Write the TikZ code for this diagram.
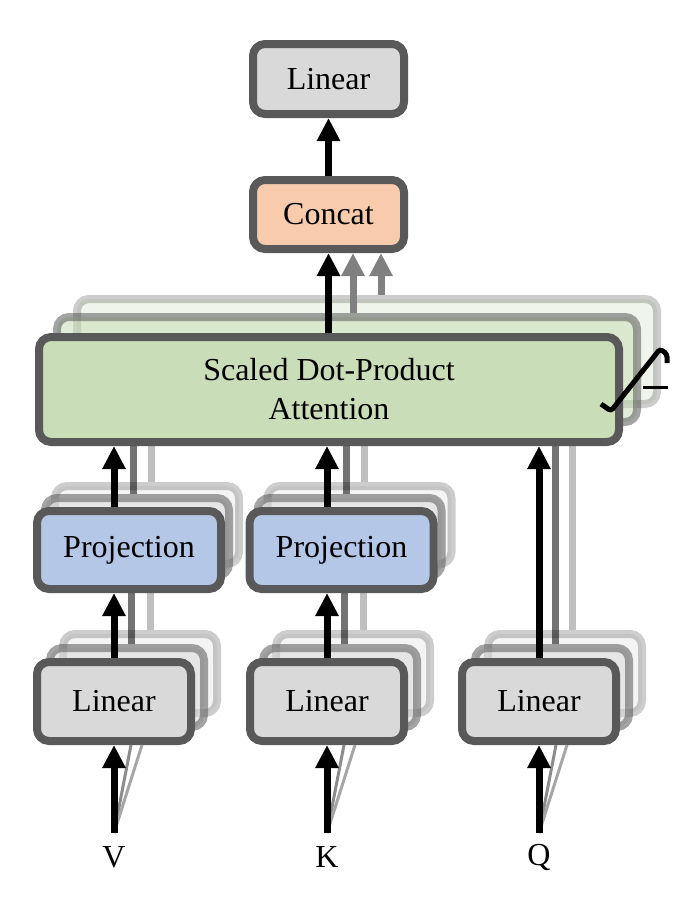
\documentclass[tikz,border=0pt]{standalone}
\usepackage{fontspec}
\setmainfont{Liberation Serif}
\usetikzlibrary{positioning, arrows.meta, calc}
\definecolor{edgegray}{HTML}{595959}
\definecolor{lingray}{HTML}{D9D9D9}
\definecolor{catpeach}{HTML}{F8CBAD}
\definecolor{projblue}{HTML}{B4C7E7}
\definecolor{attgreen}{HTML}{C9DDB8}

\begin{document}
\begin{tikzpicture}[
    x=0.5pt, y=-0.5pt,
    every node/.style={font=\fontsize{16}{19.5}\selectfont},
    blk/.style={draw=edgegray, line width=4pt, rounded corners=6pt, inner sep=0pt, align=center},
    ghostA/.style={draw opacity=.55, fill opacity=.55},
    ghostB/.style={draw opacity=.3, fill opacity=.3},
    linbox/.style={blk, fill=lingray, minimum width=77pt, minimum height=39.5pt},
    projbox/.style={blk, fill=projblue, minimum width=92pt, minimum height=39pt},
    attbox/.style={blk, fill=attgreen, minimum width=290pt, minimum height=52.5pt},
    arr/.style={line width=3.5pt, -{Triangle[width=11pt,length=11.5pt]}},
    fadedarr/.style={arr, black!50},
    dimline/.style={line width=3.5pt, black, opacity=.55},
    faintline/.style={line width=3.5pt, black, opacity=.25},
    fan/.style={line width=1.5pt, black!45},
  ]
  \useasboundingbox (0,0) rectangle (680,910);

  % stacked copies of the heads
  \foreach \n/\x in {V/114, K/327, Q/539} {
    \node[linbox, ghostB] (lin\n B) at (\x+26, 673.5) {};
    \node[linbox, ghostA] (lin\n A) at (\x+13, 687.5) {};
  }
  \foreach \n/\x in {V/129, K/341.5} {
    \node[projbox, fill=lingray, ghostB] (proj\n B) at (\x+18, 525) {};
    \node[projbox, fill=lingray, ghostA] (proj\n A) at (\x+8, 537) {};
  }
  \node[attbox, ghostB] (attB) at (367, 351.5) {};
  \node[attbox, ghostA] (attA) at (347, 369.5) {};

  % front boxes
  \node[blk, fill=lingray, minimum width=75.5pt, minimum height=35pt] (top) at (328.5, 79) {Linear};
  \node[blk, fill=catpeach, minimum width=75.5pt, minimum height=34.5pt] (cat) at (328.5, 214.5) {Concat};
  \node[attbox] (att) at (329, 389.5) {Scaled Dot-Product\\Attention};
  \node[projbox] (projV) at (129, 550) {Projection};
  \node[projbox] (projK) at (341.5, 550) {Projection};
  \foreach \n/\x in {V/114, K/327, Q/539} {
    \node[linbox] (lin\n) at (\x, 701.5) {Linear};
    \coordinate (in\n) at (\x, 833);
    \node (lab\n) at (\x, 857) {\n};
  }

  % inputs
  \foreach \n in {V, K, Q} {
    \draw[fan] (in\n) -- ([xshift=8.5pt]lin\n.south);
    \draw[fan, black!35] (in\n) -- ([xshift=14pt]lin\n.south);
    \draw[arr] (in\n) -- (lin\n.south);
  }

  % faded links of the other heads
  \foreach \n in {V, K} {
    \draw[dimline] ([xshift=8.5pt]lin\n.north |- lin\n A.north) -- ([xshift=8.5pt]lin\n.north |- proj\n.south);
    \draw[faintline] ([xshift=18pt]lin\n.north |- lin\n B.north) -- ([xshift=18pt]lin\n.north |- proj\n.south);
    \draw[dimline] ([xshift=9.5pt]lin\n.north |- proj\n A.north) -- ([xshift=9.5pt]lin\n.north |- att.south);
    \draw[faintline] ([xshift=18.5pt]lin\n.north |- proj\n B.north) -- ([xshift=18.5pt]lin\n.north |- att.south);
    \draw[arr] (lin\n.north) -- (lin\n.north |- proj\n.south);
    \draw[arr] (lin\n.north |- proj\n.north) -- (lin\n.north |- att.south);
  }
  \draw[dimline] ([xshift=8pt]linQ.north |- linQA.north) -- ([xshift=8pt]linQ.north |- att.south);
  \draw[faintline] ([xshift=16.5pt]linQ.north |- linQB.north) -- ([xshift=16.5pt]linQ.north |- att.south);
  \draw[arr] (linQ.north) -- (linQ.north |- att.south);

  % heads into concat
  \draw[fadedarr] ([xshift=12pt]att.north |- attA.north) -- ([xshift=12pt]att.north |- cat.south);
  \draw[fadedarr] ([xshift=26pt]att.north |- attB.north) -- ([xshift=26pt]att.north |- cat.south);
  \draw[arr] (cat.south |- att.north) -- (cat.south);
  \draw[arr] (cat.north) -- (top.south);

  % head count mark
  \draw[line width=2.5pt, rounded corners=1.5pt] (601,404) -- (611,411) -- (660,349) -- (667,354) -- (667,363);
  \draw[line width=1.5pt] (643,387) -- (668,387);
\end{tikzpicture}
\end{document}
